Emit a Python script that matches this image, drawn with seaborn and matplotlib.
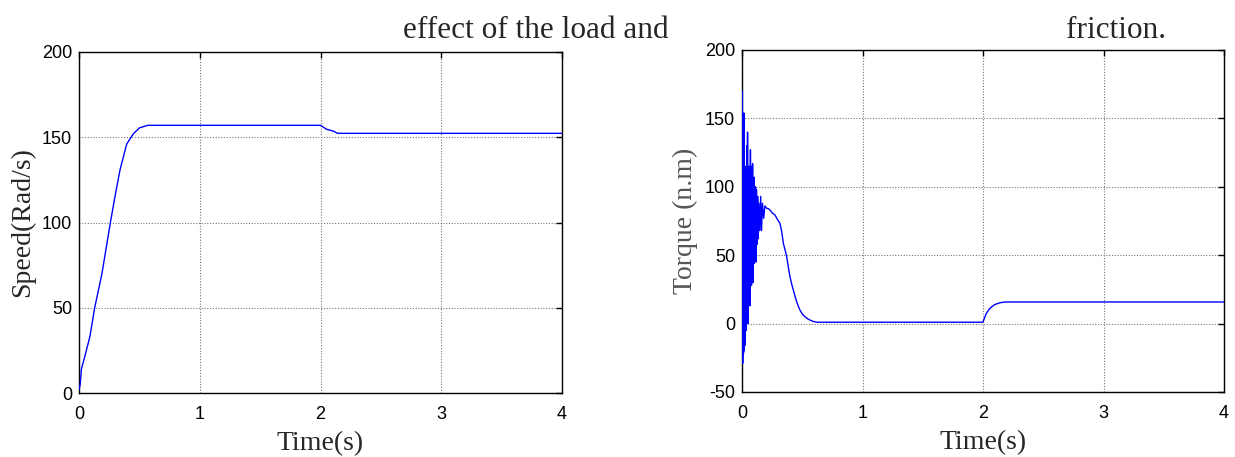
import matplotlib
matplotlib.use("Agg")
import matplotlib.pyplot as plt
import seaborn as sns
import pandas as pd

# Rotor speed response (rad/s): start-up, then load applied at t = 2 s
speed_t = [0.0, 0.01, 0.02, 0.05, 0.09, 0.13, 0.19, 0.26, 0.30, 0.34, 0.395,
           0.45, 0.50, 0.57, 2.00, 2.05, 2.11, 2.14, 4.00]
speed_v = [2.0, 5.0, 14.0, 22.0, 33.0, 50.0, 70.0, 100.0, 116.0, 131.0, 146.0,
           152.0, 155.5, 157.0, 157.0, 154.7, 153.5, 152.3, 152.3]

# Electromagnetic torque (N.m)
torque_t = [0.000, 0.003, 0.006, 0.009, 0.012, 0.015, 0.018, 0.021, 0.024, 0.027,
            0.030, 0.033, 0.036, 0.040, 0.043, 0.046, 0.049, 0.052, 0.055, 0.058,
            0.061, 0.064, 0.067, 0.070, 0.073, 0.076, 0.079, 0.082, 0.085, 0.088,
            0.091, 0.094, 0.097, 0.100, 0.103, 0.106, 0.109, 0.112, 0.116, 0.120,
            0.125, 0.130, 0.135, 0.140, 0.148, 0.155, 0.162, 0.170, 0.180, 0.190,
            0.205, 0.220, 0.232, 0.250, 0.274, 0.295, 0.315, 0.330, 0.343, 0.357,
            0.371, 0.385, 0.398, 0.412, 0.426, 0.440, 0.454, 0.468, 0.481, 0.500,
            0.523, 0.545, 0.564, 0.590, 0.625, 0.660, 1.990, 2.000, 2.025, 2.050,
            2.075, 2.100, 2.140, 2.180, 4.000]
torque_v = [0.0, 170.0, -29.0, 115.0, -22.0, 154.0, -20.0, 115.0, -16.0, 110.0,
            40.0, 115.0, -5.0, 130.0, 10.0, 140.0, 0.0, 113.0, 38.0, 115.0,
            20.0, 100.0, 13.0, 127.0, 30.0, 115.0, 28.0, 108.0, 45.0, 117.0,
            30.0, 98.0, 55.0, 107.0, 44.0, 95.0, 57.0, 100.0, 45.0, 98.0,
            58.0, 93.0, 62.0, 88.0, 68.0, 93.0, 68.0, 88.0, 77.0, 86.0,
            84.3, 84.0, 83.0, 81.0, 79.4, 76.0, 73.3, 67.0, 58.7, 54.0,
            48.9, 41.0, 34.3, 29.0, 24.5, 20.0, 16.0, 12.5, 9.9, 7.0,
            5.0, 3.5, 2.6, 1.6, 1.0, 1.0, 1.0, 1.2, 7.0, 10.4,
            12.5, 14.0, 15.2, 15.8, 15.8]

x_ticks = [0, 1, 2, 3, 4]
speed_ticks = [0, 50, 100, 150, 200]
torque_ticks = [-50, 0, 50, 100, 150, 200]

speed_df = pd.DataFrame({"Time": speed_t, "Speed": speed_v})
torque_df = pd.DataFrame({"Time": torque_t, "Torque": torque_v})

sns.set_style("white")
plt.rcParams["font.family"] = ["Liberation Sans", "DejaVu Sans"]
plt.rcParams["axes.unicode_minus"] = False

fig = plt.figure(figsize=(12.35, 4.57), dpi=100)
ax1 = fig.add_axes([79 / 1235, 64 / 457, 483 / 1235, 341 / 457])
ax2 = fig.add_axes([742 / 1235, 65 / 457, 482 / 1235, 342 / 457])

serif = "Liberation Serif"

sns.lineplot(data=speed_df, x="Time", y="Speed", ax=ax1, color="#0000ff",
             linewidth=1.0, estimator=None, sort=False, zorder=3)
sns.lineplot(data=torque_df, x="Time", y="Torque", ax=ax2, color="#0000ff",
             linewidth=1.0, estimator=None, sort=False, zorder=3)

for ax, yt in ((ax1, speed_ticks), (ax2, torque_ticks)):
    ax.set_xlim(x_ticks[0], x_ticks[-1])
    ax.set_ylim(yt[0], yt[-1])
    ax.set_xticks(x_ticks)
    ax.set_yticks(yt)
    ax.grid(True, color="#777777", linestyle=(0, (1, 1.5)), linewidth=0.8)
    ax.tick_params(direction="in", top=True, right=True, length=4, width=1,
                   labelsize=13, colors="black")
    ax.tick_params(axis="x", pad=9.5)
    ax.tick_params(axis="y", pad=5)
    for s in ax.spines.values():
        s.set_color("black")
        s.set_linewidth(1.0)
    ax.set_xlabel("Time(s)", family=serif, fontsize=20, labelpad=6)

ax1.set_ylabel("Speed(Rad/s)", family=serif, fontsize=20, labelpad=5)
ax2.set_ylabel("Torque (n.m)", family=serif, fontsize=20, labelpad=5,
               color="#555555")

fig.text(403 / 1235, 1 - 31 / 457, "effect of the load and", family=serif,
         fontsize=22.5, ha="left", va="center")
fig.text(1066 / 1235, 1 - 31 / 457, "friction.", family=serif,
         fontsize=22.5, ha="left", va="center")

fig.savefig("out.png", dpi=100, facecolor="white")
